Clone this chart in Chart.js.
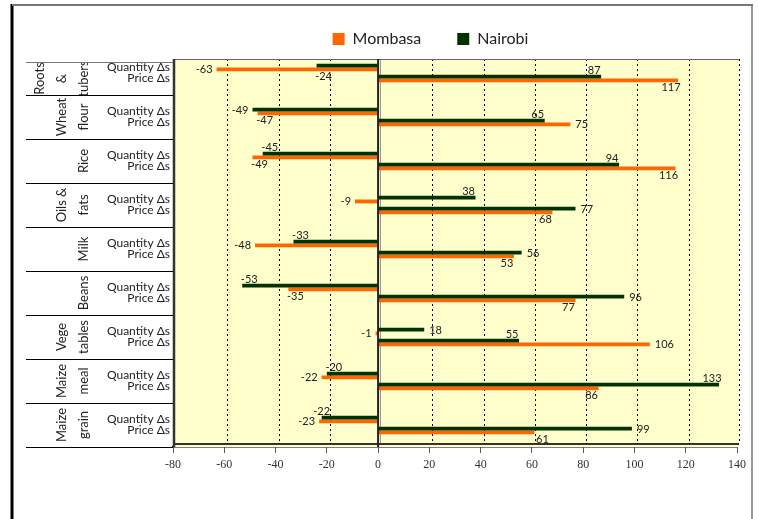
<!DOCTYPE html>
<html>
<head>
<meta charset="utf-8">
<script src="https://cdn.jsdelivr.net/npm/chart.js@4/dist/chart.umd.min.js"></script>
<style>
  html, body { margin: 0; padding: 0; background: #fff; }
  #wrap { width: 759px; height: 519px; position: relative; }
  canvas { display: block; }
</style>
</head>
<body>
<div id="wrap"><canvas id="chart" width="759" height="519"></canvas></div>
<script>
// Food groups (wrapped name lines) and the two measures shown for each
const categories = [
  ['Roots', '&', 'tubers'],
  ['Wheat', 'flour'],
  ['Rice'],
  ['Oils &', 'fats'],
  ['Milk'],
  ['Beans'],
  ['Vege', 'tables'],
  ['Maize', 'meal'],
  ['Maize', 'grain']
];
const measures = ['Quantity Δs', 'Price Δs'];

// Changes per food group, top to bottom
const mombasaQuantity = [-63, -47, -49, -9, -48, -35, -1, -22, -23];
const mombasaPrice    = [117, 75, 116, 68, 53, 77, 106, 86, 61];
const nairobiQuantity = [-24, -49, -45, 38, -33, -53, 18, -20, -22];
const nairobiPrice    = [87, 65, 94, 77, 56, 96, 55, 133, 99];

// Where each value label sits relative to its bar end
const mombasaQuantityLabel = ['left', 'below', 'below', 'left', 'left', 'below', 'left', 'left', 'left'];
const mombasaPriceLabel    = ['below', 'right', 'below', 'below', 'below', 'below', 'right', 'below', 'belowOut'];
const nairobiQuantityLabel = ['below', 'left', 'above', 'above', 'above', 'above', 'right', 'above', 'aboveMid'];
const nairobiPriceLabel    = ['above', 'above', 'above', 'right', 'right', 'right', 'above', 'above', 'right'];

const xTicks = { min: -80, max: 140, step: 20 };

const SANS = 'Lato, "Open Sans", "DejaVu Sans", sans-serif';
const SERIF = '"Times New Roman", "Liberation Serif", "DejaVu Serif", serif';
const ORANGE = '#FF6600';
const GREEN = '#003300';

// Each group gets four rows: spacer, quantity, price, spacer
const rowLabels = [], mombasaRows = [], nairobiRows = [], mombasaPos = [], nairobiPos = [];
categories.forEach((c, i) => {
  rowLabels.push('', measures[0], measures[1], '');
  mombasaRows.push(null, mombasaQuantity[i], mombasaPrice[i], null);
  nairobiRows.push(null, nairobiQuantity[i], nairobiPrice[i], null);
  mombasaPos.push(null, mombasaQuantityLabel[i], mombasaPriceLabel[i], null);
  nairobiPos.push(null, nairobiQuantityLabel[i], nairobiPriceLabel[i], null);
});

const WALL_DEPTH = 2;   // sideways shift of the back wall
const WALL_TOP_GAP = 8; // wall starts a little below the plot top

// Pale back wall, dotted grid and 3-D edges behind the bars
const wallPlugin = {
  id: 'wall',
  beforeDatasetsDraw(chart) {
    const { ctx, chartArea: ca } = chart;
    const xs = chart.scales.x;
    const top = ca.top + WALL_TOP_GAP;
    const bottom = ca.bottom - 3;
    const left = ca.left + WALL_DEPTH, right = ca.right + WALL_DEPTH;
    ctx.save();
    ctx.fillStyle = '#FFFFCC';
    ctx.fillRect(left, top, right - left, ca.bottom - top);

    // dotted vertical grid
    ctx.strokeStyle = '#000';
    ctx.lineWidth = 1;
    ctx.setLineDash([2, 3]);
    for (let v = xTicks.min + xTicks.step; v < xTicks.max; v += xTicks.step) {
      if (v === 0) continue;
      const x = Math.round(xs.getPixelForValue(v)) + 3 + 0.5;
      ctx.beginPath(); ctx.moveTo(x, top); ctx.lineTo(x, bottom); ctx.stroke();
    }
    // right wall edge
    ctx.beginPath(); ctx.moveTo(right + 0.5, top); ctx.lineTo(right + 0.5, bottom); ctx.stroke();
    ctx.setLineDash([]);

    // zero line on the wall
    const x0 = Math.round(xs.getPixelForValue(0));
    ctx.strokeStyle = '#999';
    ctx.beginPath(); ctx.moveTo(x0 + 2.5, top); ctx.lineTo(x0 + 2.5, bottom); ctx.stroke();

    // top edge
    ctx.strokeStyle = '#666';
    ctx.beginPath(); ctx.moveTo(left, top + 0.5); ctx.lineTo(right, top + 0.5); ctx.stroke();
    // floor edge
    ctx.strokeStyle = '#333';
    ctx.lineWidth = 2;
    ctx.beginPath(); ctx.moveTo(ca.left, bottom); ctx.lineTo(right, bottom); ctx.stroke();
    // left side edge
    ctx.lineWidth = 2.5;
    ctx.beginPath(); ctx.moveTo(ca.left + 1, top); ctx.lineTo(ca.left + 1, ca.bottom); ctx.stroke();
    ctx.restore();
  }
};

// Category axis line at zero and the value labels
const labelPlugin = {
  id: 'valueLabels',
  afterDatasetsDraw(chart) {
    const { ctx, chartArea: ca } = chart;
    const xs = chart.scales.x, ys = chart.scales.y;
    const x0 = xs.getPixelForValue(0);
    ctx.save();
    ctx.strokeStyle = '#222';
    ctx.lineWidth = 2;
    ctx.beginPath(); ctx.moveTo(x0, ca.top + WALL_TOP_GAP); ctx.lineTo(x0, ca.bottom); ctx.stroke();

    ctx.font = '11px ' + SANS;
    ctx.fillStyle = '#222';
    ctx.textBaseline = 'middle';
    chart.data.datasets.forEach((ds, di) => {
      const meta = chart.getDatasetMeta(di);
      meta.data.forEach((bar, i) => {
        const v = ds.data[i];
        if (v === null || v === undefined) return;
        const rowY = ys.getPixelForValue(i);
        const s = v < 0 ? -1 : 1;
        const end = bar.x;
        let x = end, y = bar.y + 0.5, align = 'center';
        switch (ds.labelPos[i]) {
          case 'left':     x = end - 4; align = 'right'; break;
          case 'right':    x = end + 5; align = 'left'; break;
          case 'above':    x = end - s * 7; y = rowY - 8.5; break;
          case 'below':    x = end - s * 7; y = rowY + 9; break;
          case 'aboveMid': x = end; y = rowY - 8.5; break;
          case 'belowOut': x = end + s * 8; y = rowY + 9; break;
        }
        ctx.textAlign = align;
        ctx.fillText(String(v), x, y);
      });
    });
    ctx.restore();
  }
};

// Group names, separators and the outer frame
const groupPlugin = {
  id: 'groups',
  afterDraw(chart) {
    const { ctx, chartArea: ca } = chart;
    const ys = chart.scales.y;
    const top = ca.top + WALL_TOP_GAP + 3;
    const bounds = [top];
    for (let k = 1; k < categories.length; k++) {
      bounds.push((ys.getPixelForValue(4 * k - 1) + ys.getPixelForValue(4 * k)) / 2);
    }
    bounds.push(ca.bottom);
    ctx.save();
    ctx.lineWidth = 1;
    bounds.forEach((b, k) => {
      ctx.strokeStyle = k === 0 ? '#777' : '#000';
      const yy = Math.round(b) + 0.5;
      ctx.beginPath(); ctx.moveTo(26, yy); ctx.lineTo(ca.left, yy); ctx.stroke();
    });

    ctx.font = '13px ' + SANS;
    ctx.fillStyle = '#222';
    ctx.textAlign = 'center';
    ctx.textBaseline = 'middle';
    categories.forEach((lines, i) => {
      const b0 = bounds[i], b1 = bounds[i + 1];
      const cy = (b0 + b1) / 2;
      ctx.save();
      ctx.beginPath(); ctx.rect(20, b0 + 1, ca.left - 20, b1 - b0 - 1); ctx.clip();
      const n = lines.length;
      lines.forEach((t, j) => {
        const cx = 84 - 22 * (n - 1 - j);
        ctx.save();
        ctx.translate(cx, cy);
        ctx.rotate(-Math.PI / 2);
        ctx.fillText(t, 0, 0);
        ctx.restore();
      });
      ctx.restore();
    });

    // frame
    ctx.strokeStyle = '#000';
    ctx.lineWidth = 3;
    ctx.beginPath(); ctx.moveTo(12, 4); ctx.lineTo(12, 519); ctx.stroke();
    ctx.strokeStyle = '#777';
    ctx.lineWidth = 2;
    ctx.beginPath(); ctx.moveTo(12, 5); ctx.lineTo(753, 5); ctx.stroke();
    ctx.lineWidth = 1.5;
    ctx.beginPath(); ctx.moveTo(752, 5); ctx.lineTo(752, 519); ctx.stroke();
    ctx.restore();
  }
};

// Moves the legend row to its place above the plot
const legendPlace = {
  id: 'legendPlace',
  afterLayout(chart) {
    const lg = chart.legend;
    if (!lg) return;
    lg.left = 124;
    lg.top = -5;
  }
};

new Chart(document.getElementById('chart'), {
  type: 'bar',
  data: {
    labels: rowLabels,
    datasets: [
      { label: 'Nairobi', data: nairobiRows, labelPos: nairobiPos, backgroundColor: GREEN, borderWidth: 0 },
      { label: 'Mombasa', data: mombasaRows, labelPos: mombasaPos, backgroundColor: ORANGE, borderWidth: 0 }
    ]
  },
  options: {
    responsive: false,
    animation: false,
    indexAxis: 'y',
    layout: { padding: { left: 0, right: 22, top: 0, bottom: 0 } },
    datasets: { bar: { categoryPercentage: 0.7, barPercentage: 1.0 } },
    plugins: {
      legend: {
        position: 'top',
        maxHeight: 51,
        labels: {
          boxWidth: 12,
          boxHeight: 12,
          padding: 36,
          color: '#222',
          font: { family: SANS, size: 16 },
          sort: (a, b) => b.datasetIndex - a.datasetIndex
        }
      },
      tooltip: { enabled: false }
    },
    scales: {
      x: {
        type: 'linear',
        min: xTicks.min,
        max: xTicks.max,
        ticks: { stepSize: xTicks.step, color: '#333', padding: 5, font: { family: SERIF, size: 12 } },
        grid: { drawOnChartArea: false, drawTicks: true, tickLength: 6, color: '#555' },
        border: { color: '#000', width: 1.5 },
        afterFit: (s) => { s.height = 72; }
      },
      y: {
        type: 'category',
        offset: true,
        grid: { display: false, drawTicks: false },
        border: { display: false },
        ticks: { autoSkip: false, color: '#222', padding: 3, font: { family: SANS, size: 12 } },
        afterFit: (s) => { s.width = 173; }
      }
    }
  },
  plugins: [wallPlugin, labelPlugin, groupPlugin, legendPlace]
});
</script>
</body>
</html>
